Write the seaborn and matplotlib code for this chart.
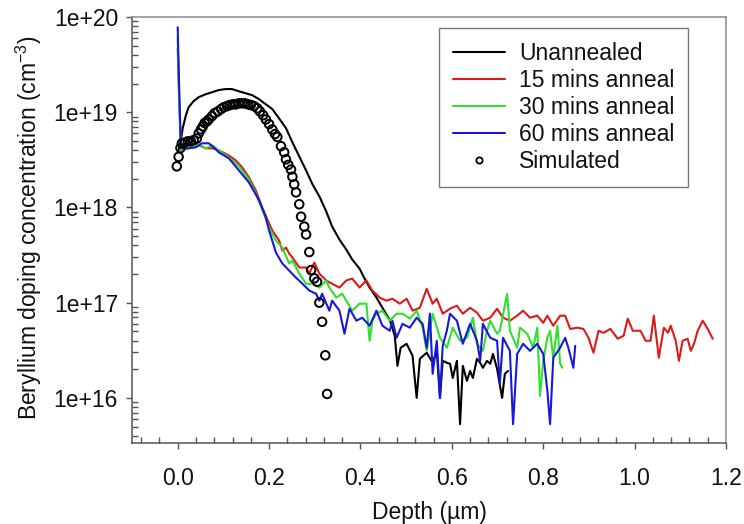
import numpy as np
import pandas as pd
import matplotlib
matplotlib.use("Agg")
import matplotlib.pyplot as plt
import seaborn as sns
from matplotlib.ticker import LogLocator, MultipleLocator, FuncFormatter, NullFormatter
from matplotlib.lines import Line2D

# ---------------- data (depth in µm, Be concentration in cm^-3) ----------------
black_depth = [0.002, 0.007, 0.011, 0.018, 0.024, 0.035, 0.046, 0.062, 0.075, 0.090,
               0.105, 0.119, 0.134, 0.149, 0.163, 0.178, 0.193, 0.207, 0.222, 0.237,
               0.251, 0.266, 0.281, 0.295, 0.310, 0.325, 0.338, 0.354, 0.369, 0.382,
               0.398, 0.409, 0.420, 0.435, 0.448, 0.464, 0.475, 0.481, 0.488, 0.501,
               0.514, 0.523, 0.530, 0.545, 0.558, 0.567, 0.574, 0.580, 0.589, 0.596,
               0.602, 0.611, 0.618, 0.624, 0.633, 0.640, 0.646, 0.655, 0.662, 0.668,
               0.677, 0.684, 0.690, 0.699, 0.710, 0.716, 0.723]
black_conc = [4.0e18, 5.1e18, 6.8e18, 9.3e18, 1.13e19, 1.31e19, 1.44e19, 1.55e19, 1.62e19, 1.71e19,
              1.75e19, 1.75e19, 1.66e19, 1.58e19, 1.51e19, 1.37e19, 1.21e19, 1.08e19, 8.6e18, 6.8e18,
              4.83e18, 3.44e18, 2.45e18, 1.75e18, 1.31e18, 9.1e17, 6.3e17, 4.6e17, 3.61e17, 2.84e17,
              2.28e17, 1.79e17, 1.44e17, 1.13e17, 8.85e16, 6.6e16, 4.5e16, 2.17e16, 3.36e16, 3.7e16,
              2.77e16, 1.0e16, 2.58e16, 2.98e16, 2.34e16, 3.12e16, 1.0e16, 2.45e16, 2.34e16, 2.28e16,
              1.62e16, 2.45e16, 5.3e15, 2.17e16, 1.51e16, 1.92e16, 1.62e16, 2.58e16, 2.34e16, 2.07e16,
              2.45e16, 2.28e16, 2.9e16, 2.02e16, 1.0e16, 1.79e16, 1.92e16]

red_depth = [0.000, 0.003, 0.007, 0.031, 0.046, 0.062, 0.075, 0.090, 0.112, 0.127,
             0.141, 0.156, 0.171, 0.185, 0.200, 0.207, 0.222, 0.229, 0.237, 0.244,
             0.251, 0.266, 0.281, 0.288, 0.299, 0.310, 0.325, 0.338, 0.354, 0.369,
             0.382, 0.398, 0.413, 0.426, 0.442, 0.457, 0.470, 0.486, 0.501, 0.514,
             0.530, 0.545, 0.558, 0.567, 0.580, 0.596, 0.611, 0.624, 0.640, 0.655,
             0.668, 0.684, 0.699, 0.712, 0.727, 0.743, 0.756, 0.771, 0.787, 0.800,
             0.809, 0.822, 0.837, 0.848, 0.859, 0.875, 0.888, 0.899, 0.910, 0.921,
             0.932, 0.947, 0.963, 0.976, 0.985, 0.996, 1.013, 1.024, 1.035, 1.042,
             1.053, 1.064, 1.073, 1.079, 1.090, 1.097, 1.105, 1.116, 1.123, 1.130,
             1.138, 1.149, 1.160, 1.171]
red_conc = [4.6e19, 1.5e19, 4.0e18, 4.28e18, 4.5e18, 4.18e18, 4.18e18, 3.98e18, 3.52e18, 3.12e18,
            2.64e18, 2.07e18, 1.51e18, 1.0e18, 6.8e17, 5.73e17, 4.5e17, 3.52e17, 3.79e17, 3.28e17,
            2.98e17, 2.34e17, 2.34e17, 2.02e17, 2.64e17, 2.02e17, 1.71e17, 1.58e17, 1.44e17, 1.71e17,
            1.79e17, 1.44e17, 1.71e17, 1.34e17, 1.13e17, 1.05e17, 1.1e17, 9.76e16, 1.1e17, 8.24e16,
            8.85e16, 1.4e17, 9.76e16, 1.1e17, 7.66e16, 8.65e16, 9.3e16, 7.66e16, 8.85e16, 7.85e16,
            6.47e16, 6.95e16, 8.65e16, 6.95e16, 6.47e16, 7.3e16, 8.24e16, 6.95e16, 7.3e16, 6.15e16,
            7.3e16, 5.73e16, 7.3e16, 7.3e16, 5.3e16, 5.46e16, 5.3e16, 4.28e16, 2.98e16, 5.07e16,
            4.83e16, 5.3e16, 4.18e16, 4.5e16, 6.8e16, 5.07e16, 5.07e16, 3.98e16, 3.98e16, 7.3e16,
            2.64e16, 5.46e16, 4.83e16, 5.73e16, 3.98e16, 2.45e16, 3.98e16, 4.18e16, 3.12e16, 3.7e16,
            5.07e16, 6.47e16, 5.3e16, 4.18e16]

green_depth = [0.000, 0.003, 0.007, 0.031, 0.046, 0.062, 0.075, 0.090, 0.112, 0.134,
               0.156, 0.171, 0.185, 0.200, 0.215, 0.229, 0.244, 0.251, 0.266, 0.281,
               0.295, 0.310, 0.325, 0.332, 0.347, 0.360, 0.369, 0.382, 0.398, 0.413,
               0.420, 0.426, 0.435, 0.448, 0.464, 0.479, 0.492, 0.508, 0.523, 0.536,
               0.545, 0.558, 0.574, 0.589, 0.602, 0.618, 0.633, 0.646, 0.655, 0.668,
               0.677, 0.684, 0.699, 0.705, 0.721, 0.727, 0.743, 0.749, 0.765, 0.778,
               0.787, 0.793, 0.800, 0.809, 0.815, 0.822, 0.831, 0.837, 0.842]
green_conc = [6.0e19, 1.5e19, 4.0e18, 4.28e18, 4.6e18, 4.18e18, 4.5e18, 3.98e18, 3.36e18, 2.7e18,
              1.97e18, 1.4e18, 9.5e17, 6.15e17, 4.5e17, 3.79e17, 2.58e17, 2.77e17, 2.02e17, 1.58e17,
              1.58e17, 1.44e17, 1.71e17, 1.44e17, 1.13e17, 1.24e17, 1.05e17, 8.24e16, 9.76e16, 9.76e16,
              3.98e16, 6.47e16, 7.66e16, 8.24e16, 6.47e16, 7.66e16, 7.66e16, 6.8e16, 8.24e16, 5.46e16,
              3.12e16, 7.66e16, 4.28e16, 3.36e16, 5.46e16, 3.98e16, 4.28e16, 6.95e16, 3.7e16, 3.12e16,
              5.07e16, 6.47e16, 4.72e16, 5.07e16, 1.24e17, 5.07e16, 3.36e16, 5.46e16, 4.72e16, 3.36e16,
              5.46e16, 1.05e16, 2.45e16, 4.28e16, 5.07e16, 2.64e16, 5.73e16, 2.28e16, 2.07e16]

blue_depth = [0.000, 0.003, 0.007, 0.024, 0.040, 0.053, 0.068, 0.079, 0.090, 0.112,
              0.134, 0.156, 0.171, 0.178, 0.193, 0.200, 0.215, 0.229, 0.244, 0.259,
              0.273, 0.288, 0.303, 0.310, 0.316, 0.332, 0.338, 0.354, 0.365, 0.376,
              0.391, 0.404, 0.420, 0.435, 0.448, 0.464, 0.470, 0.479, 0.492, 0.508,
              0.523, 0.536, 0.545, 0.552, 0.558, 0.567, 0.574, 0.580, 0.589, 0.596,
              0.611, 0.624, 0.640, 0.655, 0.662, 0.668, 0.684, 0.699, 0.705, 0.712,
              0.727, 0.734, 0.743, 0.756, 0.771, 0.787, 0.800, 0.809, 0.815, 0.822,
              0.837, 0.848, 0.855, 0.866, 0.870]
blue_conc = [7.8e19, 2.0e19, 4.2e18, 4.18e18, 4.28e18, 4.72e18, 4.72e18, 4.28e18, 3.79e18, 3.28e18,
             2.45e18, 1.83e18, 1.37e18, 1.19e18, 7.85e17, 5.73e17, 3.36e17, 2.58e17, 2.17e17, 1.83e17,
             1.58e17, 1.34e17, 1.24e17, 1.05e17, 1.24e17, 8.24e16, 1.05e17, 8.24e16, 4.72e16, 8.65e16,
             6.47e16, 6.95e16, 5.73e16, 8.24e16, 5.73e16, 5.07e16, 6.47e16, 4.28e16, 6.0e16, 5.46e16,
             6.95e16, 6.0e16, 3.36e16, 7.66e16, 1.79e16, 3.98e16, 1.0e16, 3.52e16, 5.07e16, 7.66e16,
             6.47e16, 3.7e16, 6.0e16, 3.98e16, 2.45e16, 6.0e16, 4.28e16, 3.98e16, 1.4e16, 4.28e16,
             3.12e16, 5.3e15, 2.9e16, 3.7e16, 3.12e16, 3.7e16, 2.9e16, 1.19e16, 5.3e15, 2.64e16,
             3.36e16, 4.28e16, 3.36e16, 2.07e16, 3.52e16]

sim_depth = [-0.002, 0.002, 0.006, 0.009, 0.015, 0.022, 0.029, 0.035, 0.042, 0.046,
             0.051, 0.055, 0.059, 0.064, 0.068, 0.075, 0.081, 0.088, 0.095, 0.101,
             0.108, 0.114, 0.121, 0.127, 0.134, 0.141, 0.147, 0.154, 0.160, 0.167,
             0.174, 0.180, 0.187, 0.193, 0.200, 0.207, 0.213, 0.218, 0.226, 0.233,
             0.237, 0.242, 0.248, 0.251, 0.255, 0.259, 0.266, 0.270, 0.277, 0.281,
             0.288, 0.292, 0.299, 0.305, 0.310, 0.316, 0.323, 0.327]
sim_conc = [2.7e18, 3.4e18, 4.2e18, 4.7e18, 4.8e18, 4.95e18, 4.95e18, 5.1e18, 5.3e18, 6.0e18,
            6.6e18, 7.1e18, 7.7e18, 8.0e18, 8.4e18, 9.1e18, 9.8e18, 1.02e19, 1.08e19, 1.13e19,
            1.16e19, 1.19e19, 1.21e19, 1.21e19, 1.24e19, 1.24e19, 1.24e19, 1.21e19, 1.19e19, 1.16e19,
            1.10e19, 1.02e19, 9.3e18, 8.4e18, 7.5e18, 6.6e18, 5.9e18, 5.5e18, 4.4e18, 3.8e18,
            3.2e18, 2.8e18, 2.5e18, 2.1e18, 1.75e18, 1.44e18, 1.08e18, 8.0e17, 6.3e17, 5.2e17,
            3.4e17, 2.2e17, 1.8e17, 1.66e17, 1.0e17, 6.3e16, 2.8e16, 1.1e16]

series_names = ["Unannealed", "15 mins anneal", "30 mins anneal", "60 mins anneal"]
sim_name = "Simulated"
x_ticks = [0.0, 0.2, 0.4, 0.6, 0.8, 1.0, 1.2]
y_ticks = [1e16, 1e17, 1e18, 1e19, 1e20]

# ---------------- style ----------------
sns.set_style("white")
plt.rcParams['font.family'] = ['Liberation Sans', 'DejaVu Sans']
plt.rcParams['mathtext.fontset'] = 'custom'
plt.rcParams['mathtext.rm'] = 'Liberation Sans'
plt.rcParams['mathtext.it'] = 'Liberation Sans:italic'
plt.rcParams['mathtext.bf'] = 'Liberation Sans:bold'

FS = 16.5
colors = ["#000000", "#dd1a1a", "#2fe02f", "#1818d8"]

fig = plt.figure(figsize=(7.44, 5.24), dpi=100)
ax = fig.add_axes([132/744, 1 - 443/524, (726 - 132)/744, (443 - 17)/524])

data = [(black_depth, black_conc), (red_depth, red_conc),
        (green_depth, green_conc), (blue_depth, blue_conc)]
for i, ((d, c), name, col) in enumerate(zip(data, series_names, colors)):
    df = pd.DataFrame({"depth": d, "conc": c})
    sns.lineplot(data=df, x="depth", y="conc", color=col, lw=1.5, sort=False,
                 estimator=None, ax=ax, legend=False, zorder=2 + i)

sim_df = pd.DataFrame({"depth": sim_depth, "conc": sim_conc})
sns.scatterplot(data=sim_df, x="depth", y="conc", marker="o", s=38,
                facecolor="none", edgecolor="black", linewidth=1.4,
                ax=ax, zorder=10, legend=False)

ax.set_yscale("log")
ax.set_xlim(-0.1, 1.2)
ax.set_ylim(3.36e15, 1e20)

ax.xaxis.set_major_locator(matplotlib.ticker.FixedLocator(x_ticks))
ax.xaxis.set_minor_locator(MultipleLocator(0.04))
ax.xaxis.set_major_formatter(FuncFormatter(lambda v, p: f"{abs(v):.1f}" if abs(v) < 1e-9 else f"{v:.1f}"))
ax.yaxis.set_major_locator(matplotlib.ticker.FixedLocator(y_ticks))
ax.yaxis.set_minor_locator(LogLocator(base=10, subs=np.arange(2, 10), numticks=20))
ax.yaxis.set_minor_formatter(NullFormatter())
ax.yaxis.set_major_formatter(FuncFormatter(lambda v, p: f"1e+{int(round(np.log10(v)))}"))

ax.tick_params(which="major", direction="out", length=4, width=1, color="#555555",
               labelsize=FS, labelcolor="#111111", bottom=True, left=True, top=False, right=False)
ax.tick_params(axis="x", which="major", pad=13)
ax.tick_params(axis="y", which="major", pad=6)
ax.tick_params(which="minor", direction="in", length=4, width=1, color="#555555",
               bottom=True, left=True, top=False, right=False)

for side in ["left", "bottom"]:
    ax.spines[side].set_color("#555555")
    ax.spines[side].set_linewidth(1.1)
for side in ["top", "right"]:
    ax.spines[side].set_color("#8a8a8a")
    ax.spines[side].set_linewidth(1.1)

ax.set_xlabel("Depth (µm)", fontsize=FS, color="#111111", labelpad=8)
ax.set_ylabel("Beryllium doping concentration (cm$^{-3}$)", fontsize=FS, color="#111111")
ax.yaxis.set_label_coords(-0.148, 0.505)

handles = [Line2D([], [], color=c, lw=1.5) for c in colors]
handles.append(Line2D([], [], ls="none", marker="o", ms=4.5, mfc="none", mec="black", mew=1.3))
leg = ax.legend(handles, series_names + [sim_name], loc="upper left",
                bbox_to_anchor=(439/744, 1 - 28/524), bbox_transform=fig.transFigure,
                frameon=True, fancybox=False, edgecolor="#555555", fontsize=FS,
                handlelength=2.3, handletextpad=0.6, labelspacing=0.18,
                borderpad=0.6, borderaxespad=0)
leg.get_frame().set_linewidth(1.0)
for t in leg.get_texts():
    t.set_color("#111111")

fig.savefig("out.png", dpi=100)
